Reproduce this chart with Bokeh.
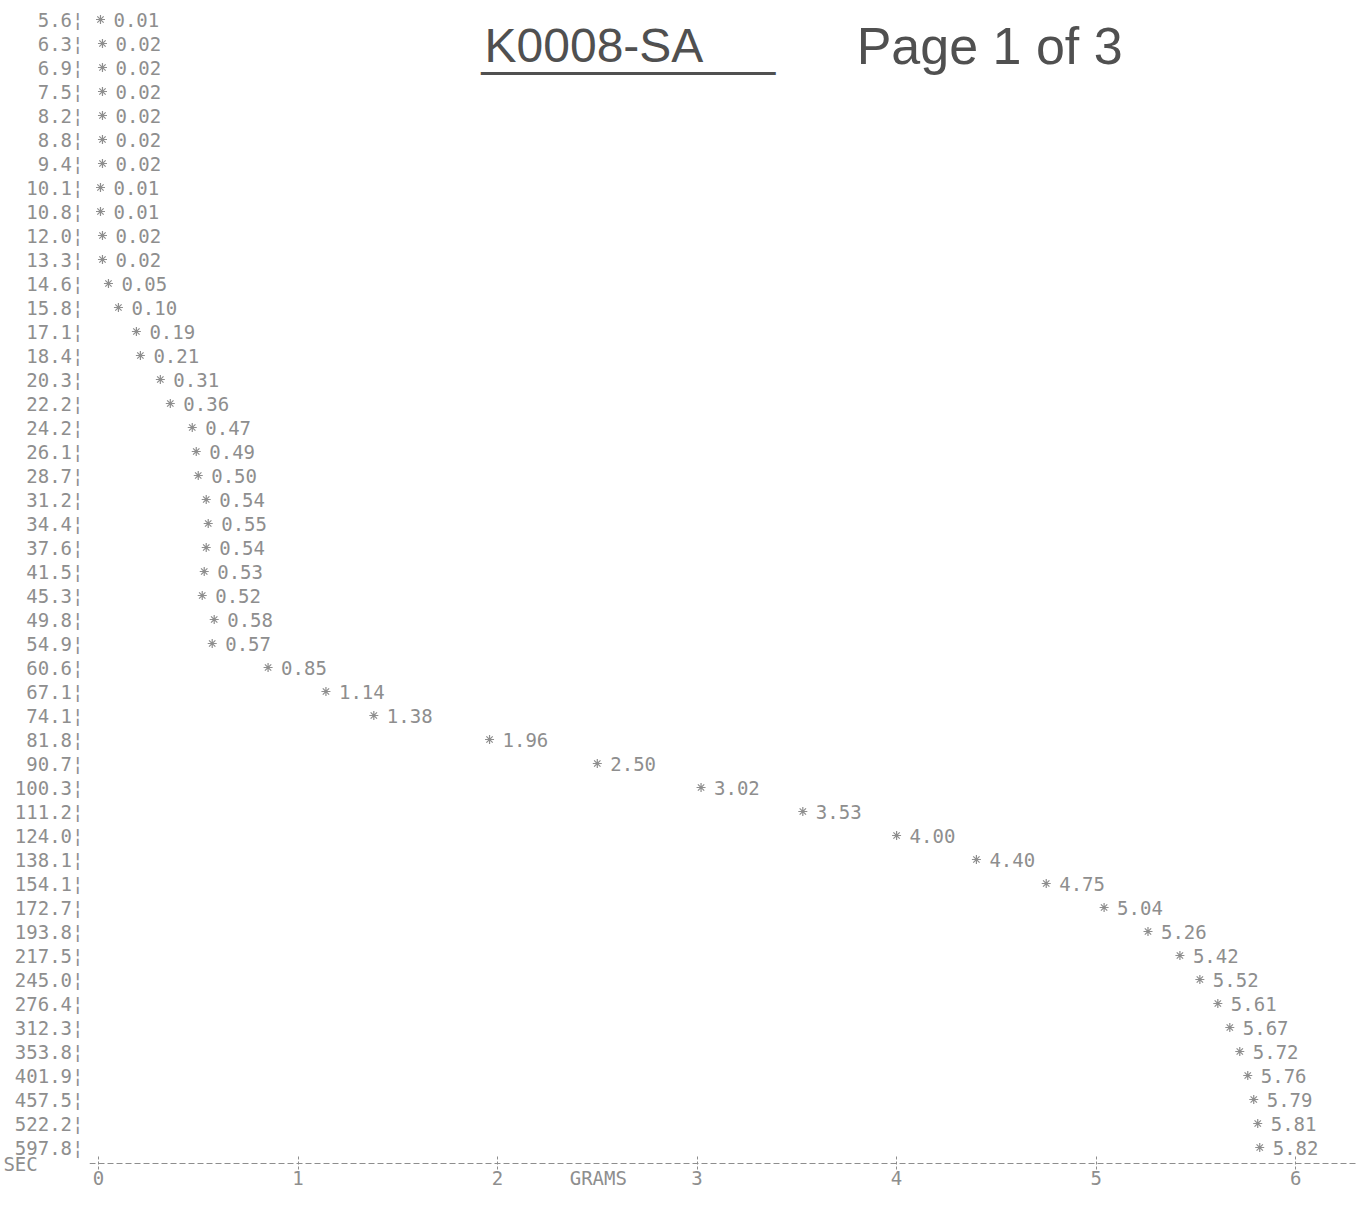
from bokeh.plotting import figure
from bokeh.models import Range1d, FixedTicker, Label, ColumnDataSource
from bokeh.embed import file_html
from bokeh.resources import INLINE

# ---- data ----
seconds = [5.6, 6.3, 6.9, 7.5, 8.2, 8.8, 9.4, 10.1, 10.8, 12.0, 13.3, 14.6, 15.8, 17.1,
           18.4, 20.3, 22.2, 24.2, 26.1, 28.7, 31.2, 34.4, 37.6, 41.5, 45.3, 49.8, 54.9,
           60.6, 67.1, 74.1, 81.8, 90.7, 100.3, 111.2, 124.0, 138.1, 154.1, 172.7, 193.8,
           217.5, 245.0, 276.4, 312.3, 353.8, 401.9, 457.5, 522.2, 597.8]
grams = [0.01, 0.02, 0.02, 0.02, 0.02, 0.02, 0.02, 0.01, 0.01, 0.02, 0.02, 0.05, 0.10, 0.19,
         0.21, 0.31, 0.36, 0.47, 0.49, 0.50, 0.54, 0.55, 0.54, 0.53, 0.52, 0.58, 0.57,
         0.85, 1.14, 1.38, 1.96, 2.50, 3.02, 3.53, 4.00, 4.40, 4.75, 5.04, 5.26,
         5.42, 5.52, 5.61, 5.67, 5.72, 5.76, 5.79, 5.81, 5.82]
gram_ticks = [0, 1, 2, 3, 4, 5, 6]
x_title = "GRAMS"
y_title = "SEC"
note_id = "K0008-SA"
note_page = "Page 1 of 3"

INK = "#8e8e8e"
PEN = "#505050"
MONO = "DejaVu Sans Mono"
FS = "19px"

# ---- layout (pixels) ----
W, H = 1356, 1189
FRAME_LEFT = 86    # left edge of the plotting frame
ZERO_PX = 95       # where 0 g sits
px_per_g = 200.0
px_per_row = 24.0
top_off = 19.0     # centre of first row
axis_px = 1163.0   # the dashed grams axis


def row_at(px):
    return (px - top_off) / px_per_row


def g_at(px):
    return (px - ZERO_PX) / px_per_g


rows = list(range(len(seconds)))
axis_row = row_at(axis_px)
row_labels = {i: f"{s:.1f}\u00a6" for i, s in zip(rows, seconds)}
row_labels[axis_row] = y_title + "\u00a0" * 4
val_labels = [f"{g:.2f}" for g in grams]

p = figure(width=W, height=H, output_backend="svg", toolbar_location=None, title=None,
           x_range=Range1d(g_at(FRAME_LEFT), g_at(W)),
           y_range=Range1d(row_at(H), row_at(0)),
           min_border_left=FRAME_LEFT, min_border_right=0, min_border_top=0,
           min_border_bottom=0, background_fill_color="white",
           border_fill_color="white")
p.outline_line_color = None
p.grid.visible = False

# y axis: the seconds column
ya = p.yaxis[0]
ya.ticker = FixedTicker(ticks=rows + [axis_row])
ya.major_label_overrides = row_labels
ya.axis_line_color = None
ya.major_tick_line_color = None
ya.minor_tick_line_color = None
ya.major_label_standoff = 0
ya.major_label_text_font = MONO
ya.major_label_text_font_size = FS
ya.major_label_text_color = INK

# x axis: grams, drawn at the printout's axis row
xa = p.xaxis[0]
xa.fixed_location = axis_row
xa.ticker = FixedTicker(ticks=gram_ticks)
xa.axis_line_color = INK
xa.axis_line_dash = "6 3"
xa.axis_line_width = 1
xa.major_tick_in = 7
xa.major_tick_out = 6
xa.major_tick_line_color = INK
xa.major_tick_line_dash = "3 2"
xa.minor_tick_line_color = None
xa.major_label_standoff = 1
xa.major_label_text_font = MONO
xa.major_label_text_font_size = FS
xa.major_label_text_color = INK

src = ColumnDataSource(dict(g=grams, r=rows, lab=val_labels))
p.scatter("g", "r", source=src, marker="asterisk", size=9, line_color=INK, line_width=1.2)
p.text("g", "r", text="lab", source=src, x_offset=13, text_align="left",
       text_baseline="middle", text_font={"value": MONO}, text_font_size={"value": FS},
       text_color=INK)

# axis title on the tick-label line, like the printout
p.add_layout(Label(x=g_at(596), y=row_at(1177), text=x_title, text_align="center",
                   text_baseline="middle", text_font=MONO, text_font_size=FS,
                   text_color=INK))

# handwritten notes
p.add_layout(Label(x=g_at(482), y=row_at(45), text=note_id, text_align="left",
                   text_baseline="middle", text_font="Liberation Sans",
                   text_font_size="48px", text_color=PEN))
p.add_layout(Label(x=g_at(479), y=row_at(48), text="___________", text_align="left",
                   text_baseline="middle", text_font="Liberation Sans",
                   text_font_size="48px", text_color=PEN))
p.add_layout(Label(x=g_at(855), y=row_at(45), text=note_page, text_align="left",
                   text_baseline="middle", text_font="Liberation Sans",
                   text_font_size="52px", text_color=PEN))

open("out.html", "w").write(file_html(p, INLINE))
